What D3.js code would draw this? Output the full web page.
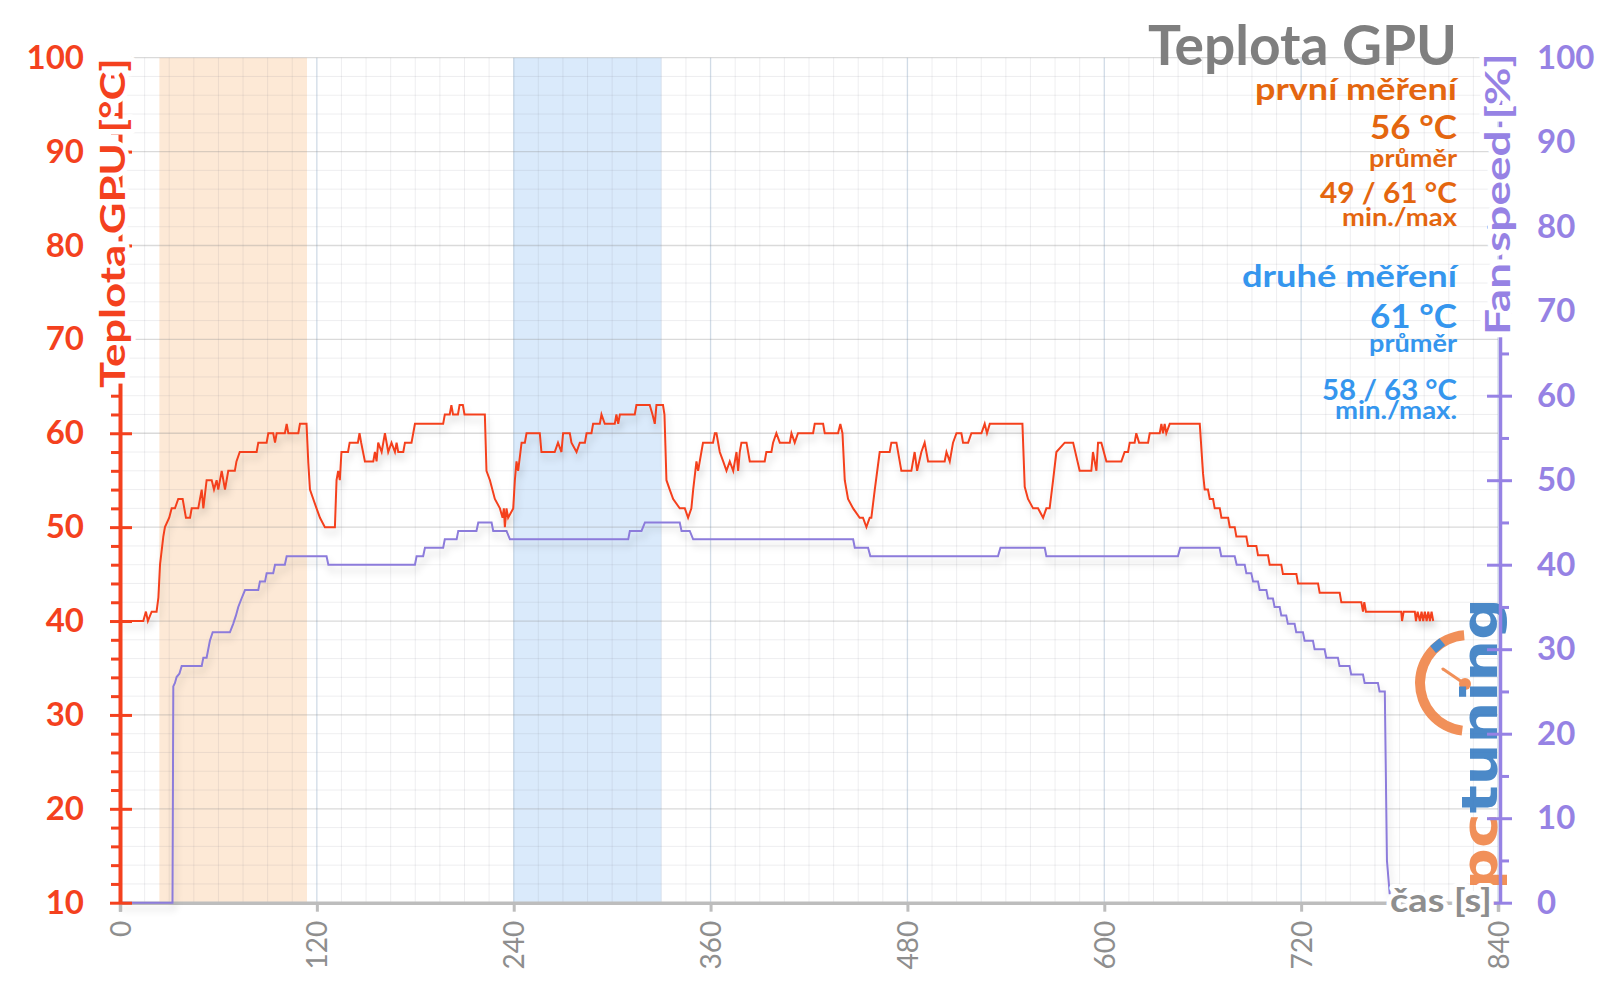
<!DOCTYPE html>
<html><head><meta charset="utf-8">
<script src="https://cdn.jsdelivr.net/npm/d3@7"></script>
<style>
html,body{margin:0;padding:0;background:#fff;}
svg{display:block;font-family:Lato,"Open Sans",sans-serif;}
</style></head>
<body>
<svg id="chart" width="1600" height="996"></svg>
<script>
// ---------- DATA ----------
const tempTimes = [0,14.2,15.8,17,19.3,22.3,23.4,24.4,26.4,27.4,30,31.5,33.5,35.5,38.2,40.2,42.7,43.7,47.7,49.8,50.8,52.8,55.9,57.3,58.9,59.9,62,64,66,70,71,73,83.3,84.3,89.4,90.4,93.4,94.5,95.5,100.5,101.6,102.6,108.7,109.7,113.7,114.8,115.8,117.8,119.8,121.9,124.9,131,132,133,134,135,139,140,145,146,147,149.3,154.4,155.4,156.4,157.4,159.5,161.5,163.5,165.5,167.6,168.6,169.6,172.7,173.7,177.7,179.8,197,198,201,202,203,206,207,209,210,222.4,223.4,225.5,228.5,231.6,233.2,234,234.6,235.6,236.6,239.7,240.7,241.7,242.7,244.8,246.8,247.8,255.9,256.9,265,267,269.1,270.1,274.2,275.2,278.3,280.3,283.4,284.4,287.4,288.4,292.5,293.5,295.5,301.6,302.6,303.7,304.7,313.8,314.8,322.9,324.6,326,327,331,331.9,333.1,335.1,337.2,341.2,344.3,346.3,348.3,349.4,351.4,352.4,354.4,355.4,361.5,362.6,363.6,365.6,367.7,369.7,371.7,373.8,375.8,376.8,377.8,378.8,381.9,383.9,393,394,397.1,398.1,400.1,402.2,408.3,409.3,411.3,413.3,422.5,423.5,428.6,429.6,437.7,439.1,440.4,441.8,443.8,446.9,450.9,452.9,455,457,458,460.1,463.1,469.2,470.2,473.3,476.3,482.4,484.4,485.9,488.5,490.5,492.6,502.7,503.8,505.8,507.8,509.9,512.9,513.9,517,519,525.1,527.1,528.5,530.2,550.1,551.5,553.5,556.6,559.6,562.7,564.7,566.7,568.8,570.8,575.9,581,585,592.1,593.1,595.2,596.2,598.2,601.3,610.4,612.4,614.5,615.5,618.5,619.5,621.2,626.7,627.7,633.8,634.8,635.8,636.8,637.8,639.9,658.2,660.2,661.2,663.2,664.3,666.3,667.3,670.4,671.4,675.5,676.5,679.5,680.5,686.6,687.6,692.7,693.7,699.8,700.8,707.9,708.9,717.1,718.1,730.3,731.3,743.5,744.5,756.7,757.7,758.5,759.5,781,781.5,782.5,789.3,790,791,792.4,793.4,794.4,795.4,796.5,797.5,798.5,799.5,800.5];
const tempValues = [40,40,41,40,41,41,42.5,46,49,50,51,52,52,53,53,51,51,52,52,54,52,55,55,54,55,54,56,54,56,56,57,58,58,59,59,60,60,59,60,60,61,60,60,61,61,56.8,54,53,52,51,50,50,55,56,55,58,58,59,59,60,59,57,57,58,57,59,58,60,58,59,58,59,58,58,59,59,61,61,62,62,63,62,62,63,63,62,62,56,55,53,52,51,52,50,52,51,52,55,57,56,59,59,60,60,58,58,59,58,60,60,59,58,59,59,60,60,61,61,62,61,61,62,61,62,62,63,63,62,61,63,63,62,55,54,53,52,52,51,52,54,57,56,58,59,59,60,60,58,57,56,57,56,58,56,58,59,59,57,57,58,58,59,60,59,59,60,59,60,60,61,61,60,60,61,60,55,53,52,51,51,50,51,51,54,58,58,59,59,56,56,58,56,58,59,57,57,58,57,59,60,60,59,59,60,60,61,60,61,61,54.3,53,52,52,51,52,52,55,58,59,59,56,56,58,56,59,59,57,57,58,58,59,59,60,59,59,60,60,61,60,61,60,61,61,55.7,54,54,53,53,52,52,51,51,50,50,49,49,48,48,47,47,46,46,45,45,44,44,43,43,42,42,41,42,41,41,40,41,41,40,41,40,41,40,41,40,41,40,41,40];

const fanTimes = [0,32,32.5,33.5,34.5,36.2,37.6,49.8,50.8,52.8,54.8,56.5,67,69,70.7,72.1,74.1,76.2,84.3,85.3,88.4,89.4,93.4,94.5,100.5,101.6,125.9,127,179.8,180.8,184.8,185.9,197,198,205.2,206.2,217.3,218.4,226.5,227.5,235.6,237.7,309.8,310.8,317.9,320,341.2,342.3,347.3,349.4,446.9,447.9,456,457.4,535.2,536.7,563.7,564.7,644.9,646.3,670.3,671.3,679.5,680.7,685.6,686.6,689.6,690.7,693.7,694.7,698.8,699.8,702.8,703.8,706.9,707.9,710.9,711.9,716,717,721.1,722.1,727.2,728.2,734.3,735.3,742.4,743.4,749.5,750.5,757.7,758.7,766.8,767.8,771,772.3,774];
const fanValues = [0,0,25.6,26,26.7,27.1,28,28,29,29,31,32,32,33,34,35,36,37,37,38,38,39,39,40,40,41,41,40,40,41,41,42,42,43,43,44,44,45,45,44,44,43,43,44,44,45,45,44,44,43,43,42,42,41,41,42,42,41,41,42,42,41,41,40,40,39,39,38,38,37,37,36,36,35,35,34,34,33,33,32,32,31,31,30,30,29,29,28,28,27,27,26,26,25,25,5,1];

const bandStarts = [24, 240];
const bandEnds = [114, 330];

const xTickValues = [0,120,240,360,480,600,720,840];
const tempTickValues = [10,20,30,40,50,60,70,80,90,100];
const fanTickValues = [0,10,20,30,40,50,60,70,80,90,100];

const chartTitle = "Teplota GPU";
const leftAxisTitle = "Teplota GPU [°C]";
const rightAxisTitle = "Fan speed [%]";
const xAxisTitle = "čas [s]";
const noteTexts = ["první měření","56 °C","průměr","49 / 61 °C","min./max",
                   "druhé měření","61 °C","průměr","58 / 63 °C","min./max."];

// ---------- LAYOUT ----------
const svg = d3.select("#chart");
const X0 = 120, X1 = 1498, YB = 902.7, YT = 57.7;
const x = d3.scaleLinear([0, 840], [X0, X1]);
const yT = d3.scaleLinear([10, 100], [YB, YT]);
const yF = d3.scaleLinear([0, 100], [YB, YT]);

const RED = "#F4411E", PURPLE = "#9682E4", PURPLE_LINE = "#8C7BDB", GREY = "#8E8E8E";
const ORANGE = "#E4660F", BLUE = "#3596EE";

const defs = svg.append("defs");
const f = defs.append("filter").attr("id","shadow").attr("x","-5%").attr("y","-10%").attr("width","110%").attr("height","130%");
f.append("feDropShadow").attr("dx",2).attr("dy",6).attr("stdDeviation",3.5).attr("flood-color","#000").attr("flood-opacity",0.16);

// bands
const bandColors = ["#FDE9D6", "#DAEAFB"];
svg.append("g").selectAll("rect").data(bandStarts).join("rect")
  .attr("x", (d,i) => x(d)).attr("width", (d,i) => x(bandEnds[i]) - x(d))
  .attr("y", YT).attr("height", YB - YT)
  .attr("fill", (d,i) => bandColors[i]);

// grid
const grid = svg.append("g");
const minorX = d3.range(0, 841, 15).filter(v => v % 120 !== 0);
const minorY = d3.range(10, 101, 2).filter(v => v % 10 !== 0);
grid.selectAll(".mx").data(minorX).join("line")
  .attr("x1", d => x(d)).attr("x2", d => x(d)).attr("y1", YT).attr("y2", YB)
  .attr("stroke", "rgba(120,120,140,0.13)").attr("stroke-width", 1);
grid.selectAll(".my").data(minorY).join("line")
  .attr("x1", X0).attr("x2", X1).attr("y1", d => yT(d)).attr("y2", d => yT(d))
  .attr("stroke", "rgba(120,120,140,0.13)").attr("stroke-width", 1);
grid.selectAll(".Mx").data(xTickValues.slice(1)).join("line")
  .attr("x1", d => x(d)).attr("x2", d => x(d)).attr("y1", YT).attr("y2", YB)
  .attr("stroke", "rgba(150,175,200,0.45)").attr("stroke-width", 1.3);
grid.selectAll(".My").data(tempTickValues.slice(1)).join("line")
  .attr("x1", X0).attr("x2", X1).attr("y1", d => yT(d)).attr("y2", d => yT(d))
  .attr("stroke", "rgba(140,140,140,0.32)").attr("stroke-width", 1.3);

// bottom axis
const xAxis = svg.append("g").attr("transform", `translate(0,${YB})`)
  .call(d3.axisBottom(x).tickValues(xTickValues).tickSize(9).tickPadding(18).tickFormat(d3.format("d")));
xAxis.select(".domain").attr("stroke", "#BDBDBD").attr("stroke-width", 3.5);
xAxis.selectAll(".tick line").attr("stroke", "#BDBDBD").attr("stroke-width", 3);
xAxis.selectAll(".tick text")
  .attr("transform", "rotate(-90)").attr("text-anchor", "end")
  .attr("x", -18).attr("y", 0).attr("dy", "0.36em")
  .attr("fill", GREY).attr("font-size", 28).attr("font-family", "Lato");

// lines
const tempData = tempTimes.map((t,i) => [t, tempValues[i]]);
const fanData = fanTimes.map((t,i) => [t, fanValues[i]]);
svg.append("path").datum(fanData)
  .attr("d", d3.line().x(d => x(d[0])).y(d => yF(d[1])))
  .attr("fill", "none").attr("stroke", PURPLE_LINE).attr("stroke-width", 2).attr("filter", "url(#shadow)");
svg.append("path").datum(tempData)
  .attr("d", d3.line().x(d => x(d[0])).y(d => yT(d[1])))
  .attr("fill", "none").attr("stroke", RED).attr("stroke-width", 2).attr("filter", "url(#shadow)");

// logo (below right axis)
const logo = svg.append("g").attr("opacity", 0.92);
const arc = d3.arc().innerRadius(43).outerRadius(53).startAngle(-Math.PI + 0.12).endAngle(-0.08);
logo.append("path").attr("d", arc()).attr("transform", "translate(1468,683)").attr("fill", "#F0874C");
logo.append("rect").attr("x", 1432).attr("y", 641).attr("width", 12).attr("height", 9)
  .attr("transform", "rotate(-40,1438,646)").attr("fill", "#3C82C8");
logo.append("line").attr("x1", 1443).attr("y1", 669).attr("x2", 1465).attr("y2", 684)
  .attr("stroke", "#F0874C").attr("stroke-width", 3).attr("stroke-linecap", "round");
logo.append("circle").attr("cx", 1465).attr("cy", 684).attr("r", 6).attr("fill", "#F0874C");
const lt = logo.append("text").attr("transform", "translate(1497,890) rotate(-90)")
  .attr("font-family", "DejaVu Sans").attr("font-weight", 700).attr("font-size", 50)
  .attr("textLength", 292).attr("lengthAdjust", "spacingAndGlyphs");
lt.append("tspan").attr("fill", "#F0874C").text("pc");
lt.append("tspan").attr("fill", "#3C7FC4").text("tuning");

// left axis
const lAxisMinor = svg.append("g").attr("transform", `translate(${X0},0)`)
  .call(d3.axisLeft(yT).tickValues(minorY).tickSize(9).tickFormat(""));
lAxisMinor.select(".domain").remove();
lAxisMinor.selectAll(".tick line").attr("stroke", RED).attr("stroke-width", 3);
const lAxis = svg.append("g").attr("transform", `translate(${X0},0)`)
  .call(d3.axisLeft(yT).tickValues(tempTickValues).tickSize(10).tickPadding(26).tickSizeOuter(0));
lAxis.select(".domain").attr("stroke", RED).attr("stroke-width", 4);
lAxis.selectAll(".tick line").attr("x1", 12).attr("x2", -10).attr("stroke", RED).attr("stroke-width", 3);
lAxis.selectAll(".tick text").attr("fill", RED).attr("font-size", 33).attr("font-weight", 700).attr("font-family", "Lato");

// right axis
const X_R = 1500;
const rAxisMinor = svg.append("g").attr("transform", `translate(${X_R},0)`)
  .call(d3.axisRight(yF).tickValues(d3.range(5, 100, 10)).tickSize(9).tickFormat(""));
rAxisMinor.select(".domain").remove();
rAxisMinor.selectAll(".tick line").attr("stroke", PURPLE).attr("stroke-width", 3);
const rAxis = svg.append("g").attr("transform", `translate(${X_R},0)`)
  .call(d3.axisRight(yF).tickValues(fanTickValues).tickSize(12).tickPadding(25).tickSizeOuter(0));
rAxis.select(".domain").attr("stroke", PURPLE).attr("stroke-width", 3.5);
rAxis.selectAll(".tick line").attr("x1", -13).attr("x2", 12).attr("stroke", PURPLE).attr("stroke-width", 3);
rAxis.selectAll(".tick text").attr("fill", PURPLE).attr("font-size", 33).attr("font-weight", 700).attr("font-family", "Lato");

// axis titles (white halo)
function halo(sel, w){ return sel.attr("stroke","#fff").attr("stroke-width",w).attr("paint-order","stroke").attr("stroke-linejoin","round"); }
halo(svg.append("text").attr("transform", "translate(125,388) rotate(-90)")
  .attr("font-size", 35).attr("font-weight", 700).attr("fill", RED)
  .attr("textLength", 330).attr("lengthAdjust", "spacingAndGlyphs").text(leftAxisTitle), 9);
halo(svg.append("text").attr("transform", "translate(1510,335) rotate(-90)")
  .attr("font-size", 35).attr("font-weight", 700).attr("fill", PURPLE)
  .attr("textLength", 282).attr("lengthAdjust", "spacingAndGlyphs").text(rightAxisTitle), 9);
halo(svg.append("text").attr("x", 1390).attr("y", 912)
  .attr("font-size", 32).attr("font-weight", 700).attr("fill", GREY)
  .attr("textLength", 102).attr("lengthAdjust", "spacingAndGlyphs").text(xAxisTitle), 8);

// title & notes
const RIGHT = 1457;
function rtext(str, base, size, width, color){
  svg.append("text").attr("x", RIGHT - width).attr("y", base)
    .attr("font-size", size).attr("font-weight", 700).attr("fill", color)
    .attr("textLength", width).attr("lengthAdjust", "spacingAndGlyphs").text(str);
}
rtext(chartTitle, 65, 56, 309, "#7F7F7F");
const noteLayout = [[100,31,202,ORANGE],[139,32,87,ORANGE],[167,24,88,ORANGE],[203,28,137,ORANGE],[226,24,115,ORANGE],
                    [287,31,215,BLUE],[328,32,87,BLUE],[352,24,88,BLUE],[400,28,135,BLUE],[419,24,122,BLUE]];
noteTexts.forEach((s,i) => rtext(s, ...noteLayout[i]));
</script>
</body></html>
